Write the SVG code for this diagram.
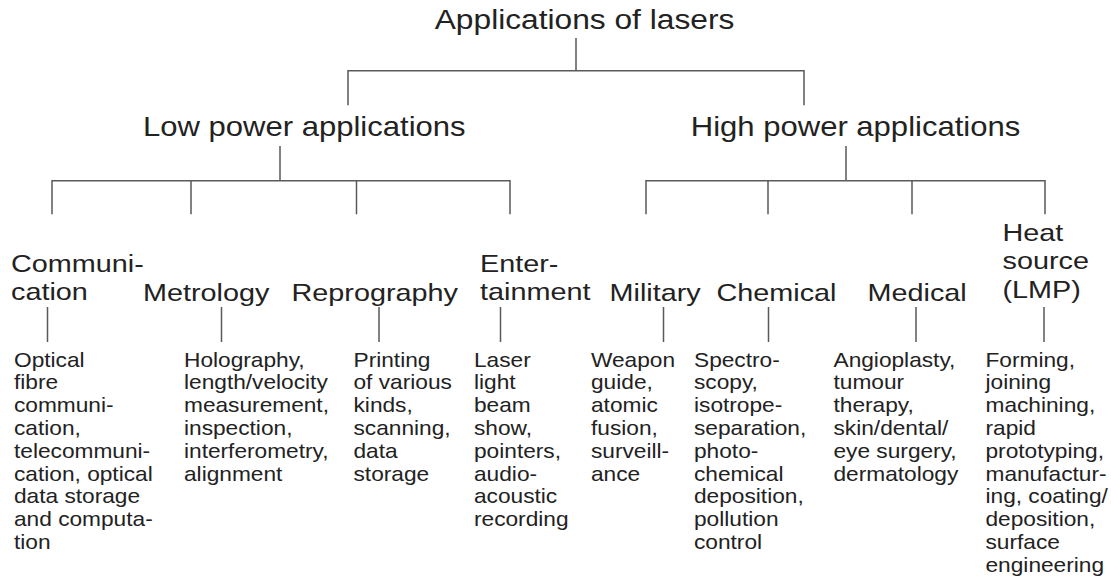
<svg xmlns="http://www.w3.org/2000/svg" width="1111" height="577" viewBox="0 0 1111 577">
<style>
text{font-family:"Liberation Sans",Arial,Helvetica,sans-serif;fill:#222}
.t1{font-size:27px}
.t3{font-size:24px}
.b{font-size:20px}
.c{fill:none;stroke:#5a5a5a;stroke-width:1.5}
</style>
<rect width="1111" height="577" fill="#fff"/>
<g id="connectors" class="c">
<path d="M576 38V70.7M348 105.3V70.7H804V105.3"/>
<path d="M280 146V180.7M52 214.3V180.7H510V214.3M191 180.7V214.3M356.5 180.7V214.3"/>
<path d="M846 146V180.7M646 214.3V180.7H1045V214.3M768 180.7V214.3M912 180.7V214.3"/>
<path d="M47.5 307V342M221.5 307V342M379 307V342M500.5 307V342M663.5 307V342M768.5 307V342M916 307V342M1044 307V342"/>
</g>
<g id="root" transform="translate(584.5,29) scale(1.175,1)"><text class="t1" text-anchor="middle">Applications of lasers</text></g>
<g id="low" transform="translate(304.3,136) scale(1.15,1)"><text class="t1" text-anchor="middle">Low power applications</text></g>
<g id="high" transform="translate(855.5,136) scale(1.15,1)"><text class="t1" text-anchor="middle">High power applications</text></g>

<g id="communication">
<g transform="translate(11,272) scale(1.2,1)"><text class="t3"><tspan x="0">Communi-</tspan><tspan x="0" dy="28.5">cation</tspan></text></g>
<g transform="translate(14,366.7) scale(1.135,1)"><text class="b"><tspan x="0">Optical</tspan><tspan x="0" dy="22.8">fibre</tspan><tspan x="0" dy="22.8">communi-</tspan><tspan x="0" dy="22.8">cation,</tspan><tspan x="0" dy="22.8">telecommuni-</tspan><tspan x="0" dy="22.8">cation, optical</tspan><tspan x="0" dy="22.8">data storage</tspan><tspan x="0" dy="22.8">and computa-</tspan><tspan x="0" dy="22.8">tion</tspan></text></g>
</g>
<g id="metrology">
<g transform="translate(143,300.5) scale(1.2,1)"><text class="t3">Metrology</text></g>
<g transform="translate(184,366.7) scale(1.135,1)"><text class="b"><tspan x="0">Holography,</tspan><tspan x="0" dy="22.8">length/velocity</tspan><tspan x="0" dy="22.8">measurement,</tspan><tspan x="0" dy="22.8">inspection,</tspan><tspan x="0" dy="22.8">interferometry,</tspan><tspan x="0" dy="22.8">alignment</tspan></text></g>
</g>
<g id="reprography">
<g transform="translate(291.5,300.5) scale(1.2,1)"><text class="t3">Reprography</text></g>
<g transform="translate(353.5,366.7) scale(1.135,1)"><text class="b"><tspan x="0">Printing</tspan><tspan x="0" dy="22.8">of various</tspan><tspan x="0" dy="22.8">kinds,</tspan><tspan x="0" dy="22.8">scanning,</tspan><tspan x="0" dy="22.8">data</tspan><tspan x="0" dy="22.8">storage</tspan></text></g>
</g>
<g id="entertainment">
<g transform="translate(480,272) scale(1.2,1)"><text class="t3"><tspan x="0">Enter-</tspan><tspan x="0" dy="28.5">tainment</tspan></text></g>
<g transform="translate(474,366.7) scale(1.135,1)"><text class="b"><tspan x="0">Laser</tspan><tspan x="0" dy="22.8">light</tspan><tspan x="0" dy="22.8">beam</tspan><tspan x="0" dy="22.8">show,</tspan><tspan x="0" dy="22.8">pointers,</tspan><tspan x="0" dy="22.8">audio-</tspan><tspan x="0" dy="22.8">acoustic</tspan><tspan x="0" dy="22.8">recording</tspan></text></g>
</g>
<g id="military">
<g transform="translate(609.5,300.5) scale(1.2,1)"><text class="t3">Military</text></g>
<g transform="translate(591,366.7) scale(1.135,1)"><text class="b"><tspan x="0">Weapon</tspan><tspan x="0" dy="22.8">guide,</tspan><tspan x="0" dy="22.8">atomic</tspan><tspan x="0" dy="22.8">fusion,</tspan><tspan x="0" dy="22.8">surveill-</tspan><tspan x="0" dy="22.8">ance</tspan></text></g>
</g>
<g id="chemical">
<g transform="translate(716.5,300.5) scale(1.2,1)"><text class="t3">Chemical</text></g>
<g transform="translate(694,366.7) scale(1.135,1)"><text class="b"><tspan x="0">Spectro-</tspan><tspan x="0" dy="22.8">scopy,</tspan><tspan x="0" dy="22.8">isotrope-</tspan><tspan x="0" dy="22.8">separation,</tspan><tspan x="0" dy="22.8">photo-</tspan><tspan x="0" dy="22.8">chemical</tspan><tspan x="0" dy="22.8">deposition,</tspan><tspan x="0" dy="22.8">pollution</tspan><tspan x="0" dy="22.8">control</tspan></text></g>
</g>
<g id="medical">
<g transform="translate(867.5,300.5) scale(1.2,1)"><text class="t3">Medical</text></g>
<g transform="translate(833.5,366.7) scale(1.135,1)"><text class="b"><tspan x="0">Angioplasty,</tspan><tspan x="0" dy="22.8">tumour</tspan><tspan x="0" dy="22.8">therapy,</tspan><tspan x="0" dy="22.8">skin/dental/</tspan><tspan x="0" dy="22.8">eye surgery,</tspan><tspan x="0" dy="22.8">dermatology</tspan></text></g>
</g>
<g id="heat">
<g transform="translate(1002.5,241) scale(1.2,1)"><text class="t3"><tspan x="0">Heat</tspan><tspan x="0" dy="28.5">source</tspan><tspan x="0" dy="28.5">(LMP)</tspan></text></g>
<g transform="translate(985.5,366.7) scale(1.135,1)"><text class="b"><tspan x="0">Forming,</tspan><tspan x="0" dy="22.8">joining</tspan><tspan x="0" dy="22.8">machining,</tspan><tspan x="0" dy="22.8">rapid</tspan><tspan x="0" dy="22.8">prototyping,</tspan><tspan x="0" dy="22.8">manufactur-</tspan><tspan x="0" dy="22.8">ing, coating/</tspan><tspan x="0" dy="22.8">deposition,</tspan><tspan x="0" dy="22.8">surface</tspan><tspan x="0" dy="22.8">engineering</tspan></text></g>
</g>
</svg>
